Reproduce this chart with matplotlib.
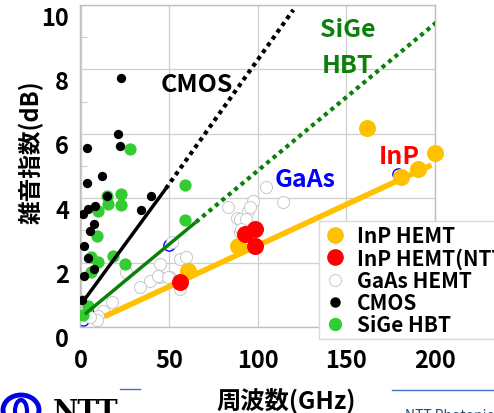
import matplotlib
matplotlib.use("Agg")
import matplotlib.pyplot as plt
import matplotlib.transforms as mtransforms
from matplotlib.lines import Line2D
from matplotlib.patches import Ellipse

plt.rcParams['font.family'] = ['Noto Sans CJK JP', 'DejaVu Sans']
plt.rcParams['font.weight'] = 'bold'

# data (GHz, dB)
cmos_f = [22.6, 21, 22, 3.6, 12, 3.6, 15, 39.5, 7.9, 4.1, 1.3, 34.2, 7.3, 5.1, 1.9, 4.1, 7.3, 1.9, 0.4]
cmos_nf = [7.73, 5.98, 5.63, 5.55, 4.70, 4.47, 4.06, 4.06, 3.77, 3.66, 3.51, 3.64, 3.2, 2.99, 2.51, 2.13, 1.80, 1.59, 0.84]

sige_f = [27.5, 22.4, 14.5, 58.9, 22.4, 15.4, 9.4, 9.2, 5.6, 9.8, 5.6, 18.2, 24.8, 3.8, 1.3, 58.9]
sige_nf = [5.53, 4.13, 4.06, 4.42, 3.79, 3.82, 3.61, 2.84, 2.16, 2.01, 1.70, 2.21, 1.96, 0.66, 0.37, 3.31]

gaas_f = [51.2, 44.6, 38.9, 33.3, 50.2, 44.6, 17.3, 12.6, 9.8, 8.9, 25.5, 55.9, 59.6, 55.9, 43.6,
          49.3, 83.1, 87.9, 89.7, 94.4, 97.2, 95.4, 89.7, 91.6, 104.8, 114.2, 93.5, 90.7, 5.0]
gaas_nf = [2.63, 1.96, 1.44, 1.23, 1.54, 1.54, 0.77, 0.51, 0.35, 0.22, 1.72, 2.11, 2.16, 1.18, 1.59,
           1.54, 3.72, 3.40, 3.35, 3.61, 3.92, 3.72, 2.94, 2.84, 4.34, 3.87, 3.35, 3.04, 0.30]

blue_f = [1.0, 4.0, 50.0, 179.3]
blue_nf = [0.22, 0.45, 2.55, 4.75]

inp_f = [60.6, 88.8, 161.8, 199.8, 190.3, 180.6]
inp_nf = [1.75, 2.51, 6.17, 5.39, 4.91, 4.65]

ntt_f = [55.9, 92.5, 98.2, 98.2]
ntt_nf = [1.39, 2.90, 3.04, 2.52]

# trend lines: solid part and dotted extrapolation
cmos_line_f = [2.3, 48]
cmos_line_nf = [0.87, 4.30]
cmos_ext_f = [48, 120]
cmos_ext_nf = [4.30, 9.85]
sige_line_f = [2.3, 65]
sige_line_nf = [0.40, 3.26]
sige_ext_f = [65, 201]
sige_ext_nf = [3.26, 9.47]
inp_line_f = [13.5, 198]
inp_line_nf = [0.33, 5.03]

x_ticks = [0, 50, 100, 150, 200]
y_ticks = [0, 2, 4, 6, 8, 10]

ORANGE = '#FFC000'
RED = '#FF0000'
GREEN = '#33CC33'
DKGREEN = '#0B800B'
GRID = '#CFCFCF'

fig = plt.figure(figsize=(4.94, 4.14), dpi=100)
ax = fig.add_axes([80 / 494, 86 / 414, 355 / 494, 322 / 414])

ax.set_xlim(-0.5, 200)
ax.set_ylim(0, 10)
ax.set_xticks(x_ticks)
ax.set_yticks(y_ticks)
ax.set_yticks([1, 3, 5, 7, 9], minor=True)
ax.grid(True, color=GRID, lw=0.9)
ax.set_axisbelow(True)
for s in ax.spines.values():
    s.set_color('#BFBFBF')
    s.set_linewidth(1)
ax.tick_params(axis='both', which='major', length=0, labelsize=17)
ax.tick_params(axis='x', pad=15)
ax.tick_params(axis='y', pad=8)
ax.tick_params(axis='y', which='minor', direction='in', length=5, color='#BFBFBF')
ax.tick_params(axis='x', which='minor', length=0)

off = mtransforms.ScaledTranslation(0, -0.10, fig.dpi_scale_trans)
for lab in ax.get_yticklabels():
    lab.set_transform(lab.get_transform() + off)

ax.scatter(blue_f, blue_nf, s=65, facecolor='white', edgecolor='#0000FF', lw=1, zorder=2)
ax.scatter(gaas_f, gaas_nf, s=75, facecolor='white', edgecolor='#C8C8C8', lw=0.7, zorder=3)
ax.scatter(sige_f, sige_nf, s=78, color=GREEN, lw=0, zorder=4)
ax.scatter(cmos_f, cmos_nf, s=45, color='black', lw=0, zorder=5)

ax.plot(cmos_line_f, cmos_line_nf, color='black', lw=2.5, zorder=6, solid_capstyle='butt')
ax.plot(cmos_ext_f, cmos_ext_nf, color='black', lw=3, ls=(0, (1, 1)), zorder=6)
ax.plot(sige_line_f, sige_line_nf, color=DKGREEN, lw=2.5, zorder=6, solid_capstyle='butt')
ax.plot(sige_ext_f, sige_ext_nf, color=DKGREEN, lw=3, ls=(0, (1, 1)), zorder=6)
ax.plot(inp_line_f, inp_line_nf, color=ORANGE, lw=4, zorder=6, solid_capstyle='butt')

ax.scatter(inp_f, inp_nf, s=150, color=ORANGE, lw=0, zorder=7, clip_on=False)
ax.scatter(ntt_f, ntt_nf, s=150, color=RED, lw=0, zorder=8)

ax.text(65.5, 7.55, 'CMOS', fontsize=18, color='black', ha='center', va='center', zorder=9)
ax.text(150.7, 9.25, 'SiGe', fontsize=18, color=DKGREEN, ha='center', va='center', zorder=9)
ax.text(150.7, 8.15, 'HBT', fontsize=18, color=DKGREEN, ha='center', va='center', zorder=9)
ax.text(126.4, 4.6, 'GaAs', fontsize=18, color='#0000FF', ha='center', va='center', zorder=9)
ax.text(180, 5.3, 'InP', fontsize=18, color=RED, ha='center', va='center', zorder=9)

fig.text(31 / 494, 1 - 152 / 414, '雑音指数(dB)', rotation=90, fontsize=17,
         ha='center', va='center')
fig.text(286 / 494, 1 - 400 / 414, '周波数(GHz)', fontsize=17.5, ha='center', va='center')

handles = [
    Line2D([], [], ls='', marker='o', ms=11, mfc=ORANGE, mec=ORANGE),
    Line2D([], [], ls='', marker='o', ms=11, mfc=RED, mec=RED),
    Line2D([], [], ls='', marker='o', ms=8.6, mfc='white', mec='#C8C8C8', mew=0.7),
    Line2D([], [], ls='', marker='o', ms=6.5, mfc='black', mec='black'),
    Line2D([], [], ls='', marker='o', ms=8.6, mfc=GREEN, mec=GREEN),
]
labels = ['InP HEMT', 'InP HEMT(NTT)', 'GaAs HEMT', 'CMOS', 'SiGe HBT']
leg = fig.legend(handles, labels, loc='upper left', bbox_to_anchor=(319 / 494, 1 - 222 / 414),
                 fontsize=15, frameon=True, fancybox=False, framealpha=1,
                 edgecolor='#D9D9D9', borderpad=0.2, labelspacing=0.05,
                 handletextpad=0.5, handlelength=1.1, borderaxespad=0)
leg.get_frame().set_linewidth(1)
leg.set_zorder(10)

# slide footer bits
fig.add_artist(Line2D([120 / 494, 140 / 494], [1 - 390 / 414] * 2, color='#4472C4', lw=1))
fig.add_artist(Line2D([392 / 494, 1], [1 - 391 / 414] * 2, color='#4472C4', lw=1))
fig.add_artist(Ellipse((21 / 494, 1 - 411 / 414), 36 / 494, 30 / 414, fill=False,
                       edgecolor='#0000E0', lw=3.5, transform=fig.transFigure))
fig.add_artist(Ellipse((21 / 494, 1 - 412 / 414), 12 / 494, 22 / 414, fill=False,
                       edgecolor='#0000E0', lw=3, transform=fig.transFigure))
fig.text(53 / 494, 1 - 399 / 414, 'NTT', fontsize=20, family='DejaVu Serif',
         weight='bold', ha='left', va='top')
fig.text(405 / 494, 1 - 409 / 414, 'NTT Photonics Laboratories', fontsize=10,
         weight='normal', color='#1F4E79', ha='left', va='top')

fig.savefig('out.png', dpi=100)
